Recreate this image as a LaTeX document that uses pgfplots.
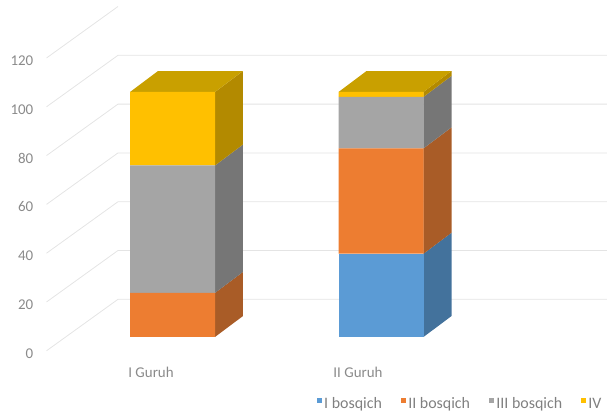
\documentclass[border=0pt]{standalone}
\usepackage{pgfplots}
\pgfplotsset{compat=1.18}
\usepackage{fontspec}
\setmainfont{Carlito}
\definecolor{gridc}{HTML}{E4E4E4}
\definecolor{txt}{HTML}{8A8A8A}
\definecolor{legt}{HTML}{808080}
\definecolor{bF}{HTML}{5B9BD5}\definecolor{bS}{HTML}{43729C}
\definecolor{oF}{HTML}{ED7D31}\definecolor{oS}{HTML}{A95C27}
\definecolor{gF}{HTML}{A5A5A5}\definecolor{gS}{HTML}{767676}
\definecolor{yF}{HTML}{FFC000}\definecolor{yS}{HTML}{B38A00}\definecolor{yT}{HTML}{C9A000}
\pgfplotsset{geom/.style={scale only axis, width=607bp, height=412bp,
  xmin=-0.82734, xmax=2.08393, ymin=-30.612, ymax=137.551,
  at={(0bp,0bp)}, anchor=south west, clip=false}}
\begin{document}
\begin{tikzpicture}
\path[use as bounding box] (0,0) rectangle (607bp,412bp);
\begin{axis}[geom, no markers,
  axis line style={draw=none}, major tick length=0pt,
  xtick={-0.1031,0.8897}, xticklabels={I Guruh, II Guruh},
  ytick={-6.65,13.26,33.16,53.07,72.97,92.88,112.78},
  yticklabels={0,20,40,60,80,100,120},
  tick label style={font=\fontsize{15}{18}\selectfont, text=txt},
  yticklabel style={anchor=east, inner sep=0pt, xshift=33.5bp},
  xticklabel style={anchor=center, inner sep=0pt, yshift=40bp},
]
% gridlines (floor diagonal + back wall)
\addplot[gridc, line width=0.8bp, forget plot] coordinates {(-0.6043,-5.63) (-0.2614,15.39) (2.0839,15.39)};
\addplot[gridc, line width=0.8bp, forget plot] coordinates {(-0.6043,14.29) (-0.2614,35.31) (2.0839,35.31)};
\addplot[gridc, line width=0.8bp, forget plot] coordinates {(-0.6043,34.20) (-0.2614,55.22) (2.0839,55.22)};
\addplot[gridc, line width=0.8bp, forget plot] coordinates {(-0.6043,54.12) (-0.2614,75.14) (2.0839,75.14)};
\addplot[gridc, line width=0.8bp, forget plot] coordinates {(-0.6043,74.04) (-0.2614,95.06) (2.0839,95.06)};
\addplot[gridc, line width=0.8bp, forget plot] coordinates {(-0.6043,93.96) (-0.2614,114.98) (2.0839,114.98)};
\addplot[gridc, line width=0.8bp, forget plot] coordinates {(-0.6043,113.88) (-0.2614,134.90)};
% bar 1 side and top faces (stack 0 / 18 / 70 / 100)
\addplot[fill=oS, draw=none, forget plot] coordinates {(0.2038,0) (0.3381,8.57) (0.3381,26.57) (0.2038,18)};
\addplot[fill=gS, draw=none, forget plot] coordinates {(0.2038,18) (0.3381,26.57) (0.3381,78.57) (0.2038,70)};
\addplot[fill=yS, draw=none, forget plot] coordinates {(0.2038,70) (0.3381,78.57) (0.3381,108.57) (0.2038,100)};
\addplot[fill=yT, draw=none, forget plot] coordinates {(-0.2038,100) (-0.0695,108.57) (0.3381,108.57) (0.2038,100)};
% bar 2 side and top faces (stack 34 / 77 / 98 / 100)
\addplot[fill=bS, draw=none, forget plot] coordinates {(1.2038,0) (1.3381,8.57) (1.3381,42.57) (1.2038,34)};
\addplot[fill=oS, draw=none, forget plot] coordinates {(1.2038,34) (1.3381,42.57) (1.3381,85.57) (1.2038,77)};
\addplot[fill=gS, draw=none, forget plot] coordinates {(1.2038,77) (1.3381,85.57) (1.3381,106.57) (1.2038,98)};
\addplot[fill=yS, draw=none, forget plot] coordinates {(1.2038,98) (1.3381,106.57) (1.3381,108.57) (1.2038,100)};
\addplot[fill=yT, draw=none, forget plot] coordinates {(0.7962,100) (0.9305,108.57) (1.3381,108.57) (1.2038,100)};
\end{axis}
\begin{axis}[geom, hide axis, ybar stacked, bar width=85bp,
  legend image code/.code={\fill[#1] (0bp,1.5bp) rectangle (5bp,6.5bp);},
  legend columns=-1,
  legend style={draw=none, fill=none, inner sep=0pt,
    at={(0.5217,0.0194)}, anchor=west,
    font=\fontsize{16}{18}\selectfont, text=legt,
    nodes={inner sep=0pt},
    /tikz/column sep=2.3bp,
    /tikz/every even column/.append style={column sep=19bp}},
]
\addplot[fill=bF, draw=none] coordinates {(0,0) (1,34)};
\addplot[fill=oF, draw=none] coordinates {(0,18) (1,43)};
\addplot[fill=gF, draw=none] coordinates {(0,52) (1,21)};
\addplot[fill=yF, draw=none] coordinates {(0,30) (1,2)};
\legend{I bosqich, II bosqich, III bosqich, IV}
\end{axis}
\end{tikzpicture}
\end{document}
